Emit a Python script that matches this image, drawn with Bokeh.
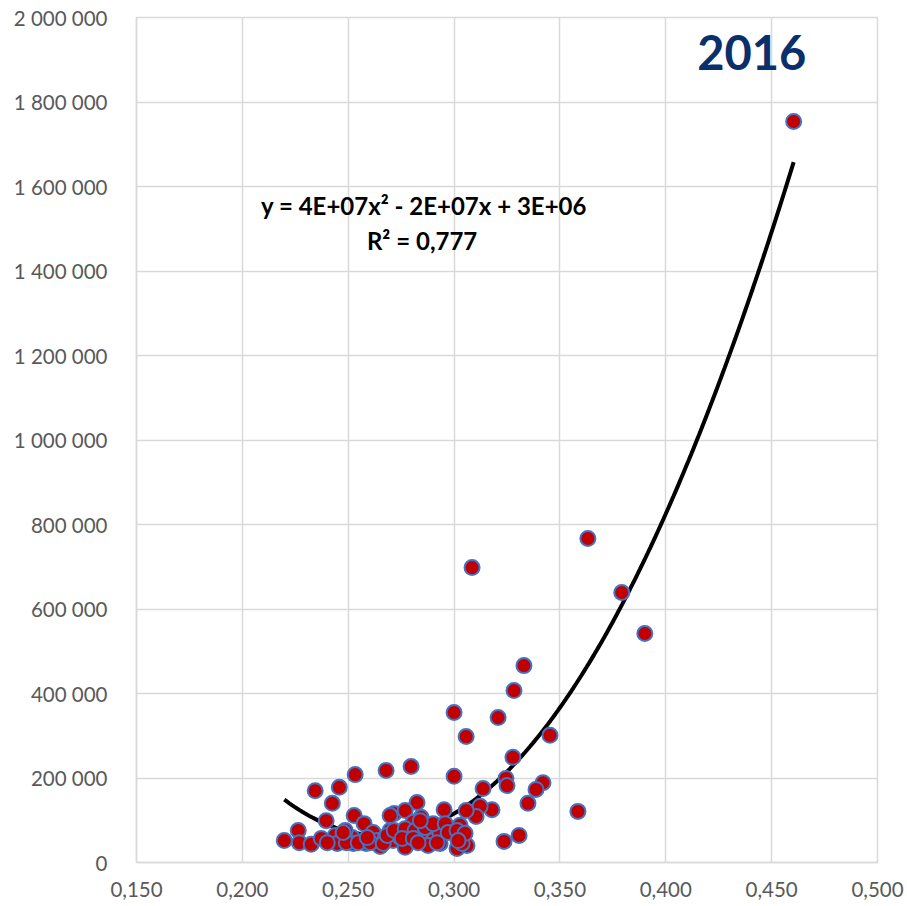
import numpy as np
from bokeh.plotting import figure
from bokeh.models import ColumnDataSource, FixedTicker, Label, Range1d
from bokeh.embed import file_html
from bokeh.resources import INLINE

# ---- data ----
x_vals = [0.4604, 0.3632, 0.3792, 0.3901, 0.3085, 0.3330, 0.3283, 0.3000, 0.3208, 0.3453,
          0.3057, 0.3278, 0.2679, 0.2797, 0.3000, 0.3137, 0.3245, 0.3250, 0.3420, 0.3387,
          0.3349, 0.3585, 0.3236, 0.3307, 0.3179, 0.3123, 0.3104, 0.3057, 0.2953, 0.2825,
          0.2717, 0.2769, 0.2844, 0.2533, 0.2344, 0.2458, 0.2425, 0.2396, 0.2528, 0.2575,
          0.2264, 0.2198, 0.2269, 0.2325, 0.2373, 0.2439, 0.2448, 0.2519, 0.2524, 0.2618,
          0.2637, 0.2675, 0.2712, 0.2745, 0.2778, 0.2830, 0.2873, 0.2901, 0.2934, 0.2967,
          0.3005, 0.3028, 0.3061, 0.2769, 0.3014, 0.2807, 0.2486, 0.2698, 0.3038, 0.2877,
          0.2651, 0.2934, 0.3028, 0.2585, 0.2491,
          0.2401, 0.2547, 0.2604, 0.2665, 0.2476, 0.2590, 0.2684, 0.2698, 0.2717, 0.2769,
          0.2816, 0.2863, 0.2901, 0.2958, 0.2755, 0.2807, 0.2830, 0.2920, 0.2972, 0.3014,
          0.3052, 0.3019, 0.2840]
y_vals = [1754000, 767000, 639000, 542000, 698000, 466000, 407000, 355000, 343000, 301000,
          298000, 249000, 218000, 227000, 204000, 175000, 199000, 182000, 189000, 173000,
          140000, 121000, 50000, 64000, 125000, 133000, 109000, 123000, 125000, 142000,
          116000, 123000, 107000, 208000, 170000, 178000, 140000, 99000, 111000, 92000,
          76000, 52000, 47000, 43000, 57000, 64000, 45000, 59000, 45000, 71000,
          52000, 59000, 52000, 59000, 45000, 57000, 69000, 52000, 45000, 83000,
          71000, 52000, 40000, 36000, 33000, 95000, 76000, 76000, 45000, 40000,
          38000, 69000, 88000, 45000, 47000,
          47000, 47000, 47000, 45000, 71000, 59000, 64000, 111000, 76000, 80000,
          76000, 83000, 92000, 92000, 57000, 57000, 47000, 47000, 71000, 76000,
          69000, 52000, 99000]

x_ticks = [0.15, 0.20, 0.25, 0.30, 0.35, 0.40, 0.45, 0.50]
x_tick_labels = ["0,150", "0,200", "0,250", "0,300", "0,350", "0,400", "0,450", "0,500"]
y_ticks = [0, 200000, 400000, 600000, 800000, 1000000, 1200000, 1400000, 1600000, 1800000, 2000000]
y_tick_labels = ["0", "200 000", "400 000", "600 000", "800 000", "1 000 000",
                 "1 200 000", "1 400 000", "1 600 000", "1 800 000", "2 000 000"]

title_text = "2016"
equation_text = "y = 4E+07x\u00b2 - 2E+07x + 3E+06"
r2_text = "R\u00b2 = 0,777"

# ---- trend line (2nd order polynomial fitted on the data) ----
coef = np.polyfit(x_vals, y_vals, 2)
xt = np.linspace(min(x_vals), max(x_vals), 200)
yt = np.polyval(coef, xt)

W, H = 905, 904
p = figure(width=W, height=H, output_backend="svg", toolbar_location=None,
           x_range=Range1d(0.15, 0.50), y_range=Range1d(0, 2000000),
           min_border_left=136, min_border_right=W - 877,
           min_border_top=17, min_border_bottom=H - 862)
p.background_fill_color = "white"
p.border_fill_color = "white"
p.outline_line_color = "#d9d9d9"
p.outline_line_width = 1.5

grid_color = "#d9d9d9"
for g in (p.xgrid, p.ygrid):
    g.grid_line_color = grid_color
    g.grid_line_width = 1.5
p.xgrid.ticker = FixedTicker(ticks=x_ticks)
p.ygrid.ticker = FixedTicker(ticks=y_ticks)

p.xaxis.ticker = FixedTicker(ticks=x_ticks)
p.yaxis.ticker = FixedTicker(ticks=y_ticks)
p.xaxis.major_label_overrides = dict(zip(x_ticks, x_tick_labels))
p.yaxis.major_label_overrides = dict(zip(y_ticks, y_tick_labels))
for ax in (p.xaxis, p.yaxis):
    ax.axis_line_color = grid_color
    ax.axis_line_width = 1.5
    ax.major_tick_line_color = None
    ax.minor_tick_line_color = None
    ax.major_label_text_color = "#595959"
    ax.major_label_text_font = "Lato"
    ax.major_label_text_font_size = "20.5px"
p.xaxis.major_label_standoff = 13
p.yaxis.major_label_standoff = 23

p.line(xt, yt, line_color="black", line_width=4)

src = ColumnDataSource(dict(x=x_vals, y=y_vals))
p.scatter("x", "y", source=src, size=15, fill_color="#c00000",
          line_color="#4472c4", line_width=2)

p.add_layout(Label(x=0.4406, y=1917000, text=title_text, text_align="center",
                   text_baseline="middle", text_font="Lato", text_font_style="bold",
                   text_font_size="47px", text_color="#0b2f6b"))
p.add_layout(Label(x=0.2858, y=1555000, text=equation_text, text_align="center",
                   text_baseline="middle", text_font="Lato", text_font_style="bold",
                   text_font_size="24px", text_color="black"))
p.add_layout(Label(x=0.2849, y=1472000, text=r2_text, text_align="center",
                   text_baseline="middle", text_font="Lato", text_font_style="bold",
                   text_font_size="24px", text_color="black"))

open("out.html", "w").write(file_html(p, INLINE))
